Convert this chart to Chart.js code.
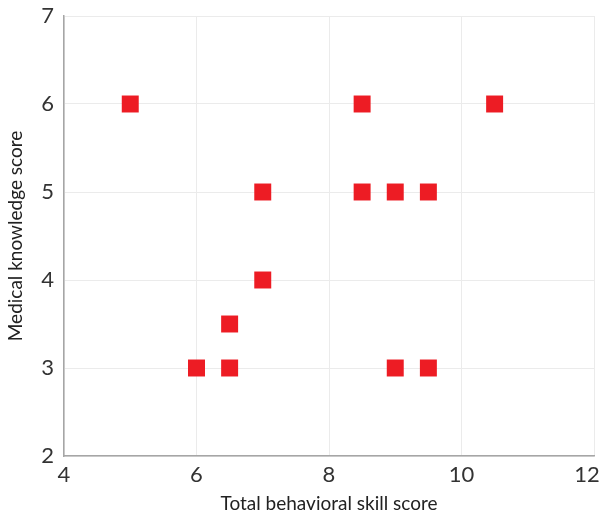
<!DOCTYPE html>
<html>
<head>
<meta charset="utf-8">
<script src="https://cdn.jsdelivr.net/npm/chart.js@4"></script>
<style>
  html, body { margin: 0; padding: 0; background: #fff; }
  #wrap { width: 600px; height: 519px; }
</style>
</head>
<body>
<div id="wrap"><canvas id="scatter" width="600" height="519"></canvas></div>
<script>
// Total behavioral skill score vs medical knowledge score
var behavioralScores = [5, 8.5, 10.5, 7, 8.5, 9, 9.5, 7, 6.5, 6, 6.5, 9, 9.5];
var knowledgeScores = [6, 6, 6, 5, 5, 5, 5, 4, 3.5, 3, 3, 3, 3];
var xTicks = [4, 6, 8, 10, 12];
var yTicks = [2, 3, 4, 5, 6, 7];

var points = behavioralScores.map(function (x, i) {
    return { x: x, y: knowledgeScores[i] };
});

var fontFamily = 'Lato, "DejaVu Sans Condensed", sans-serif';

// the plot runs almost to the right edge in the original; Chart.js keeps
// room for half the "12" label, so widen the area after layout
var widenArea = {
    id: 'widenArea',
    afterLayout: function (chart) {
        var area = chart.chartArea;
        var x = chart.scales.x;
        var right = chart.width - 6;
        area.right = right;
        area.width = right - area.left;
        x.right = right;
        x.width = right - x.left;
        x.configure();
    }
};

// keep the last x label ("12") inside the canvas
var nudgeLastLabel = {
    id: 'nudgeLastLabel',
    beforeDraw: function (chart) {
        var items = chart.scales.x.getLabelItems();
        var last = items[items.length - 1];
        if (last && !last._nudged) {
            last.options.translation[0] -= 7;
            last._nudged = true;
        }
    }
};

var ctx = document.getElementById('scatter').getContext('2d');
var chart = new Chart(ctx, {
    type: 'scatter',
    data: {
        datasets: [{
            data: points,
            pointStyle: 'rect',
            pointRadius: 12,
            pointHoverRadius: 12,
            backgroundColor: '#ed1c24',
            borderWidth: 0
        }]
    },
    options: {
        responsive: false,
        animation: false,
        layout: {
            padding: { top: 16, right: 0, left: 0, bottom: 0 }
        },
        plugins: {
            legend: { display: false },
            tooltip: { enabled: false }
        },
        scales: {
            x: {
                type: 'linear',
                min: xTicks[0],
                max: xTicks[xTicks.length - 1],
                afterBuildTicks: function (scale) {
                    scale.ticks = xTicks.map(function (v) { return { value: v }; });
                },
                afterFit: function (scale) {
                    scale.height = 63;
                },
                grid: { color: '#ebebeb', drawTicks: false },
                border: { color: '#a6a6a6', width: 1.5 },
                ticks: {
                    padding: 6,
                    color: '#333',
                    font: { family: fontFamily, size: 22 }
                },
                title: {
                    display: true,
                    text: 'Total behavioral skill score',
                    color: '#222',
                    padding: { top: 0 },
                    font: { family: fontFamily, size: 19 }
                }
            },
            y: {
                type: 'linear',
                min: yTicks[0],
                max: yTicks[yTicks.length - 1],
                afterBuildTicks: function (scale) {
                    scale.ticks = yTicks.map(function (v) { return { value: v }; });
                },
                afterFit: function (scale) {
                    scale.width = 64;
                    scale.paddingTop = 0;
                    scale.paddingBottom = 0;
                },
                grid: { color: '#ebebeb', drawTicks: false },
                border: { color: '#a6a6a6', width: 1.5 },
                ticks: {
                    padding: 10,
                    color: '#333',
                    font: { family: fontFamily, size: 22 }
                },
                title: {
                    display: true,
                    text: 'Medical knowledge score',
                    color: '#222',
                    padding: { bottom: 0 },
                    font: { family: fontFamily, size: 19 }
                }
            }
        }
    },
    plugins: [widenArea, nudgeLastLabel]
});
</script>
</body>
</html>
